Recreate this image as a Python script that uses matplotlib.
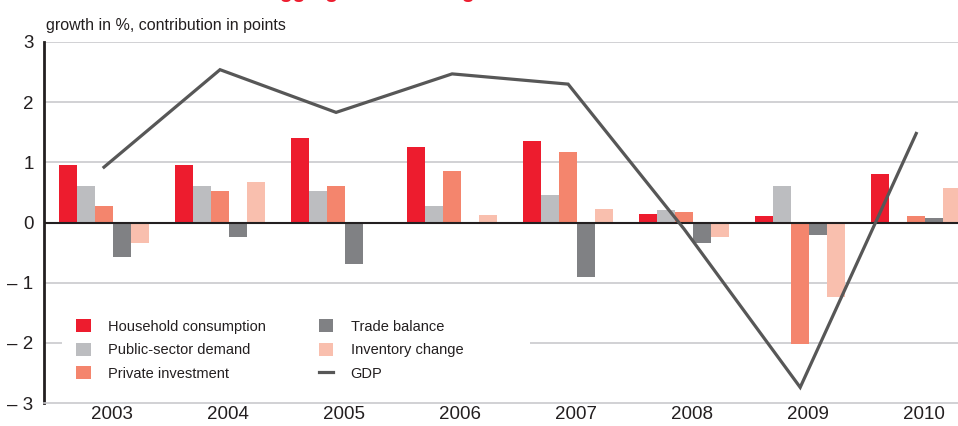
import matplotlib
matplotlib.use("Agg")
import matplotlib.pyplot as plt
import numpy as np
from matplotlib.patches import Patch, Rectangle
from matplotlib.lines import Line2D

years = ["2003", "2004", "2005", "2006", "2007", "2008", "2009", "2010"]
household = [0.96, 0.95, 1.40, 1.26, 1.36, 0.14, 0.11, 0.80]
public = [0.60, 0.61, 0.52, 0.27, 0.45, 0.20, 0.61, 0.00]
private = [0.27, 0.52, 0.61, 0.85, 1.18, 0.17, -2.02, 0.10]
trade = [-0.58, -0.24, -0.69, 0.00, -0.91, -0.34, -0.21, 0.07]
inventory = [-0.34, 0.68, 0.00, 0.12, 0.23, -0.24, -1.24, 0.57]
gdp = [0.92, 2.54, 1.83, 2.47, 2.30, -0.11, -2.74, 1.48]

series_names = ["Household consumption", "Public-sector demand", "Private investment",
                "Trade balance", "Inventory change"]
colors = ["#ED1C2E", "#BCBDC0", "#F4856D", "#808184", "#F9BFAE"]
gdp_color = "#575757"
text_color = "#231F20"

FONT = ["Liberation Sans", "DejaVu Sans"]
plt.rcParams["font.family"] = FONT

fig = plt.figure(figsize=(9.58, 4.26), dpi=100)
W, H = 958, 426
ax = fig.add_axes([44 / W, 1 - 403 / H, (W - 44) / W, (403 - 42) / H])

x = np.arange(len(years))
bw = 0.155
allvals = [household, public, private, trade, inventory]
for k, (vals, c) in enumerate(zip(allvals, colors)):
    ax.bar(x + (k - 2) * bw, vals, width=bw, color=c, zorder=2, linewidth=0)

ax.plot(x, gdp, color=gdp_color, lw=2.3, zorder=4, solid_joinstyle="miter")

ax.axhline(0, color="#231F20", lw=1.5, zorder=3)
for yv in [-2, -1, 1, 2, 3]:
    ax.axhline(yv, color="#C9C9CD", lw=1.2, zorder=1)

# white panel behind the legend (covers the gridline like in the reference)
ax.add_patch(Rectangle((62 / W, 1 - 394 / H), (530 - 62) / W, (394 - 308) / H,
                       transform=fig.transFigure, facecolor="white", edgecolor="none",
                       zorder=1.5))

ax.set_ylim(-3, 3)
ax.set_xlim(-0.517, 7.36)
ax.set_yticks([-3, -2, -1, 0, 1, 2, 3])
ax.set_yticklabels(["\u2013 3", "\u2013 2", "\u2013 1", "0", "1", "2", "3"])
ax.set_xticks(x + 0.07)
ax.set_xticklabels(years)
ax.tick_params(axis="both", length=0, colors=text_color, labelsize=13.5)
ax.tick_params(axis="y", pad=7.5)
ax.tick_params(axis="x", pad=2)
for s in ["top", "right"]:
    ax.spines[s].set_visible(False)
ax.spines["left"].set_color("#231F20")
ax.spines["left"].set_linewidth(2.0)
ax.spines["bottom"].set_color("#C9C9CD")
ax.spines["bottom"].set_linewidth(1.2)

handles = [Patch(facecolor=c, edgecolor="none") for c in colors[:3]]
handles += [Patch(facecolor=c, edgecolor="none") for c in colors[3:]]
handles.append(Line2D([0], [0], color=gdp_color, lw=2.3))
labels = series_names + ["GDP"]
leg = ax.legend(handles, labels, ncol=2, loc="upper left",
                bbox_to_anchor=(60 / W, 1 - 303 / H), bbox_transform=fig.transFigure,
                frameon=False,
                fontsize=10.5, handlelength=1.0, handleheight=1.0, handletextpad=1.2,
                columnspacing=3.6, labelspacing=0.62, borderpad=0.6)
for t in leg.get_texts():
    t.set_color(text_color)
leg.set_zorder(5)

fig.text(46 / W, 1 - 30 / H, "growth in %, contribution in points", fontsize=11.5,
         color=text_color, va="baseline", ha="left")
fig.text(8 / W, 1 + 1.5 / H, "Contributions of the main aggregates to GDP growth",
         fontsize=15, color="#ED1C2E", fontweight="bold", va="baseline", ha="left")

fig.savefig("out.png", dpi=100)
